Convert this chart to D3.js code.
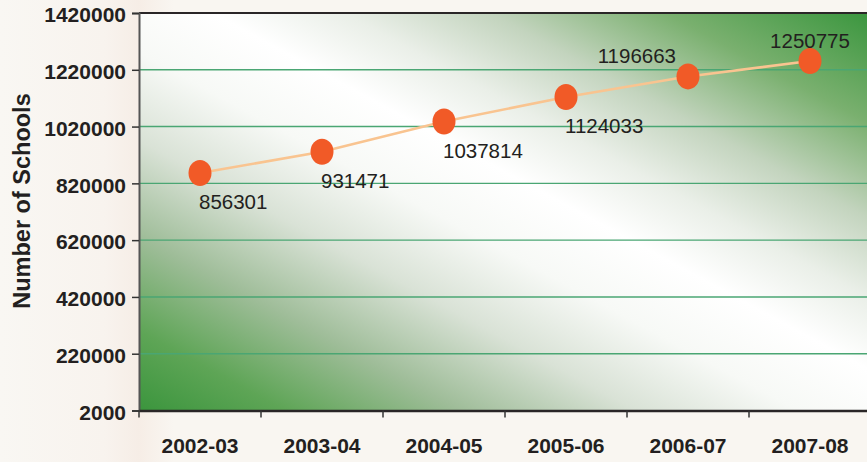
<!DOCTYPE html>
<html><head><meta charset="utf-8">
<script src="https://cdn.jsdelivr.net/npm/d3@7"></script>
<style>
html,body{margin:0;padding:0;background:#f9f6f1;}
svg{display:block;}
</style></head>
<body>
<svg id="chart" width="867" height="462"></svg>
<script>
const categories = ["2002-03","2003-04","2004-05","2005-06","2006-07","2007-08"];
const schools = [856301, 931471, 1037814, 1124033, 1196663, 1250775];
const yTickValues = [20000, 220000, 420000, 620000, 820000, 1020000, 1220000, 1420000];
const yTickLabels = ["2000","220000","420000","620000","820000","1020000","1220000","1420000"];
const labelPlacement = ["below","below","below","below","aboveLeft","above"];

const W = 867, H = 462;
const m = {left:139, top:13, right:-4, bottom:51};
const svg = d3.select("#chart");

const defs = svg.append("defs");
const bgG = defs.append("linearGradient").attr("id","bgG").attr("x1","0").attr("x2","1").attr("y1","0").attr("y2","0");
bgG.append("stop").attr("offset","0").attr("stop-color","#f9f7f3");
bgG.append("stop").attr("offset","0.12").attr("stop-color","#f8f3ee");
bgG.append("stop").attr("offset","0.16").attr("stop-color","#f6ede6");
bgG.append("stop").attr("offset","0.2").attr("stop-color","#f9f6f1");
bgG.append("stop").attr("offset","1").attr("stop-color","#f9f6f1");
svg.append("rect").attr("width",W).attr("height",H).attr("fill","url(#bgG)");

const x = d3.scaleBand().domain(categories).range([m.left, W - m.right]).padding(0);
const y = d3.scaleLinear().domain([20000, 1420000]).range([H - m.bottom - 0.5, m.top]);

const pg = defs.append("linearGradient").attr("id","plotG")
  .attr("x1","0").attr("y1","1").attr("x2","1").attr("y2","0");
[[0,"#3b953d"],[0.1,"#5ea556"],[0.22,"#9fbd99"],[0.34,"#d9e2d6"],[0.45,"#f7f9f6"],[0.55,"#ffffff"],
 [0.64,"#eaefe8"],[0.74,"#c3d4be"],[0.86,"#7ab06f"],[1,"#3a963e"]]
 .forEach(([o,c])=>pg.append("stop").attr("offset",o).attr("stop-color",c));
svg.append("rect").attr("x",m.left).attr("y",m.top)
  .attr("width",(W - m.right) - m.left).attr("height",y(20000)-m.top)
  .attr("fill","url(#plotG)");

svg.append("g").selectAll("line").data(yTickValues.slice(1,-1)).join("line")
  .attr("x1",m.left).attr("x2",W).attr("y1",d=>y(d)).attr("y2",d=>y(d))
  .attr("stroke","#4aa673").attr("stroke-width",1.4);

svg.append("line").attr("x1",m.left).attr("x2",W).attr("y1",y(1420000)).attr("y2",y(1420000))
  .attr("stroke","#2a2627").attr("stroke-width",2);

const yAxis = d3.axisLeft(y).tickValues(yTickValues)
  .tickFormat((d,i)=>yTickLabels[i]).tickSize(7).tickPadding(6);
const gy = svg.append("g").attr("transform",`translate(${m.left},0)`).call(yAxis);
gy.select(".domain").attr("stroke","#555").attr("stroke-width",2);
gy.selectAll(".tick line").attr("stroke","#333").attr("stroke-width",1.5);
gy.selectAll(".tick text").attr("font-family","Liberation Sans, Arial, sans-serif")
  .attr("font-weight","bold").attr("font-size",21).attr("fill","#231f20").attr("dy","0.42em");

const xAxis = d3.axisBottom(x).tickSize(0).tickPadding(0);
const gx = svg.append("g").attr("transform",`translate(0,${y(20000)})`).call(xAxis);
gx.select(".domain").attr("stroke","#2a2627").attr("stroke-width",2.5);
gx.selectAll(".tick text").attr("font-family","Liberation Sans, Arial, sans-serif")
  .attr("font-weight","bold").attr("font-size",21).attr("fill","#231f20").attr("y",42.5).attr("dy",0);
svg.append("g").selectAll("line").data(categories).join("line")
  .attr("x1",d=>x(d)).attr("x2",d=>x(d)).attr("y1",y(20000)).attr("y2",y(20000)+7)
  .attr("stroke","#333").attr("stroke-width",1.5);

svg.append("text").attr("transform","translate(30,201) rotate(-90)")
  .attr("text-anchor","middle").attr("font-family","Liberation Sans, Arial, sans-serif")
  .attr("font-weight","bold").attr("font-size",23.5).attr("fill","#231f20")
  .text("Number of Schools");

const cx = d => x(d) + x.bandwidth()/2;
svg.append("path").datum(schools)
  .attr("d", d3.line().x((d,i)=>cx(categories[i])).y(d=>y(d)))
  .attr("fill","none").attr("stroke","#f9c490").attr("stroke-width",2.6);

svg.append("g").selectAll("ellipse").data(schools).join("ellipse")
  .attr("cx",(d,i)=>cx(categories[i])).attr("cy",d=>y(d))
  .attr("rx",11.5).attr("ry",13).attr("fill","#f15a27");

svg.append("g").selectAll("text").data(schools).join("text")
  .attr("font-family","Liberation Sans, Arial, sans-serif").attr("font-size",20.5).attr("fill","#231f20")
  .attr("x",(d,i)=>{
    const p = labelPlacement[i], c = cx(categories[i]);
    if (p==="below") return c - 1;
    if (p==="aboveLeft") return c - 12;
    return c;
  })
  .attr("y",(d,i)=>{
    const p = labelPlacement[i], c = y(d);
    if (p==="below") return c + 36;
    return c - 13;
  })
  .attr("text-anchor",(d,i)=>labelPlacement[i]==="below" ? "start" : (labelPlacement[i]==="aboveLeft" ? "end" : "middle"))
  .text(d=>d);
</script>
</body></html>
